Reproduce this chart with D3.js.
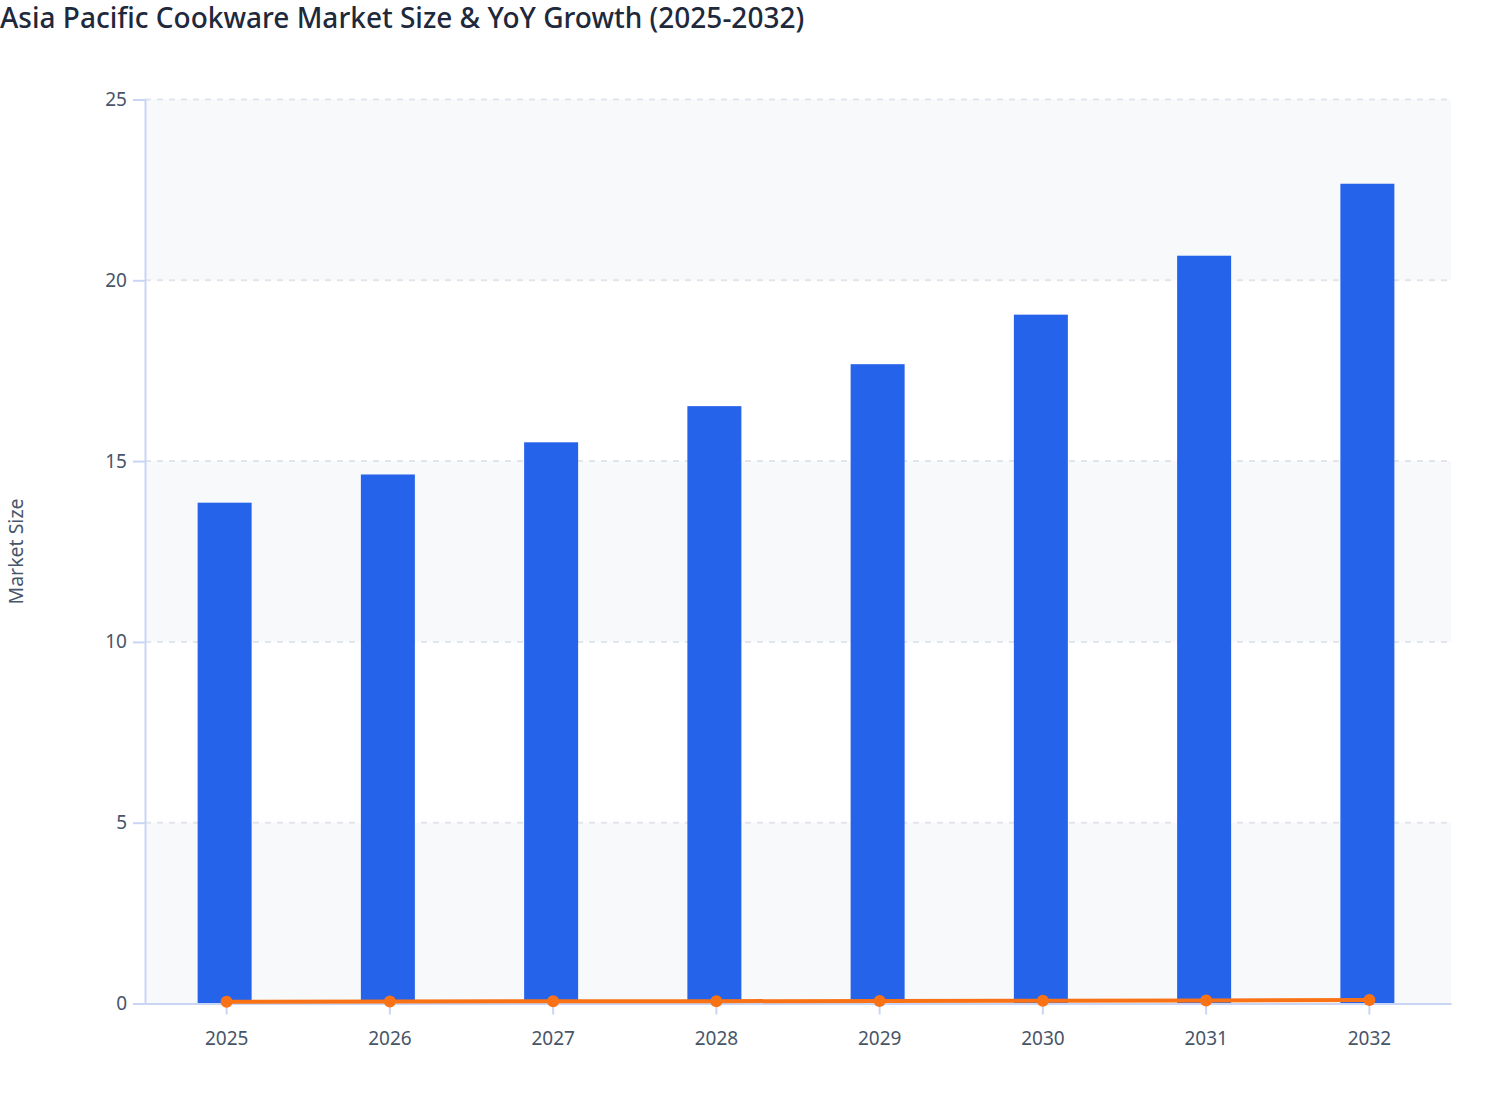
<!DOCTYPE html>
<html lang="en">
<head>
<meta charset="utf-8">
<title>Asia Pacific Cookware Market</title>
<script src="https://cdn.jsdelivr.net/npm/d3@7"></script>
<style>
  body { margin: 0; background: #fff; font-family: "Noto Sans", "Open Sans", sans-serif; }
  svg text { font-family: "Noto Sans", "Open Sans", sans-serif; }
</style>
</head>
<body>
<script>
// data
var years = ["2025", "2026", "2027", "2028", "2029", "2030", "2031", "2032"];
var marketSize = [13.85, 14.63, 15.52, 16.52, 17.68, 19.05, 20.68, 22.67];
var yoyGrowth = [0.05, 0.056, 0.061, 0.064, 0.07, 0.077, 0.086, 0.096];
var yTicks = [0, 5, 10, 15, 20, 25];

var w = 1508, h = 1120;
var plotLeft = 145, plotRight = 1451, plotTop = 99.5, plotBottom = 1003.5;

var svg = d3.select("body").append("svg")
    .attr("width", w)
    .attr("height", h);

// title
svg.append("text")
   .attr("x", 0)
   .attr("y", 28)
   .style("font-size", "28px")
   .style("font-weight", "500")
   .style("fill", "#1e293b")
   .text("Asia Pacific Cookware Market Size & YoY Growth (2025-2032)");

// scales
var x = d3.scaleBand()
    .domain(years)
    .range([plotLeft, plotRight]);

var y = d3.scaleLinear()
    .domain([0, 25])
    .range([plotBottom, plotTop]);

// alternating bands
var bands = d3.pairs(yTicks).filter(function(d, i) { return i % 2 === 0; });
svg.append("g")
   .selectAll("rect")
   .data(bands)
   .enter()
   .append("rect")
   .attr("x", plotLeft)
   .attr("width", plotRight - plotLeft)
   .attr("y", function(d) { return y(d[1]); })
   .attr("height", function(d) { return y(d[0]) - y(d[1]); })
   .attr("fill", "#f8f9fb");

// gridlines
svg.append("g")
   .selectAll("line")
   .data(yTicks.filter(function(t) { return t > 0; }))
   .enter()
   .append("line")
   .attr("x1", plotLeft)
   .attr("x2", plotRight)
   .attr("y1", function(d) { return y(d); })
   .attr("y2", function(d) { return y(d); })
   .attr("stroke", "#e2e5ec")
   .attr("stroke-width", 2)
   .attr("stroke-dasharray", "6,6");

// bars (sit a touch left of the tick, like the original)
var barW = 54;
svg.append("g")
   .selectAll("rect")
   .data(marketSize)
   .enter()
   .append("rect")
   .attr("x", function(d, i) { return x(years[i]) + x.bandwidth() / 2 - barW / 2 - 2; })
   .attr("width", barW)
   .attr("y", function(d) { return y(d); })
   .attr("height", function(d) { return y(0) - y(d); })
   .attr("fill", "#2563eb");

// y axis
var yAxis = d3.axisLeft(y).tickValues(yTicks).tickSize(12).tickPadding(6);
var gy = svg.append("g")
   .attr("transform", "translate(" + plotLeft + ",0)")
   .call(yAxis);
gy.select(".domain").attr("stroke", "#c9d5f5").attr("stroke-width", 2);
gy.selectAll(".tick line").attr("stroke", "#c9d5f5").attr("stroke-width", 2);
gy.selectAll(".tick text").style("font-size", "19px").style("fill", "#475569");

// x axis
var xAxis = d3.axisBottom(x).tickSize(11).tickPadding(17).tickSizeOuter(0);
var gx = svg.append("g")
   .attr("transform", "translate(0," + plotBottom + ")")
   .call(xAxis);
gx.select(".domain").attr("stroke", "#c9d5f5").attr("stroke-width", 2);
gx.selectAll(".tick line").attr("stroke", "#c9d5f5").attr("stroke-width", 2);
gx.selectAll(".tick text").style("font-size", "19px").style("fill", "#475569");

// growth line
var line = d3.line()
    .x(function(d, i) { return x(years[i]) + x.bandwidth() / 2; })
    .y(function(d) { return y(d); });

svg.append("path")
   .datum(yoyGrowth)
   .attr("d", line)
   .attr("fill", "none")
   .attr("stroke", "#f97316")
   .attr("stroke-width", 4);

svg.append("g")
   .selectAll("circle")
   .data(yoyGrowth)
   .enter()
   .append("circle")
   .attr("cx", function(d, i) { return x(years[i]) + x.bandwidth() / 2; })
   .attr("cy", function(d) { return y(d); })
   .attr("r", 6)
   .attr("fill", "#f97316");

// y label
svg.append("text")
   .attr("transform", "translate(23," + ((plotTop + plotBottom) / 2) + ") rotate(-90)")
   .attr("text-anchor", "middle")
   .style("font-size", "19.5px")
   .style("fill", "#475569")
   .text("Market Size");
</script>
</body>
</html>
